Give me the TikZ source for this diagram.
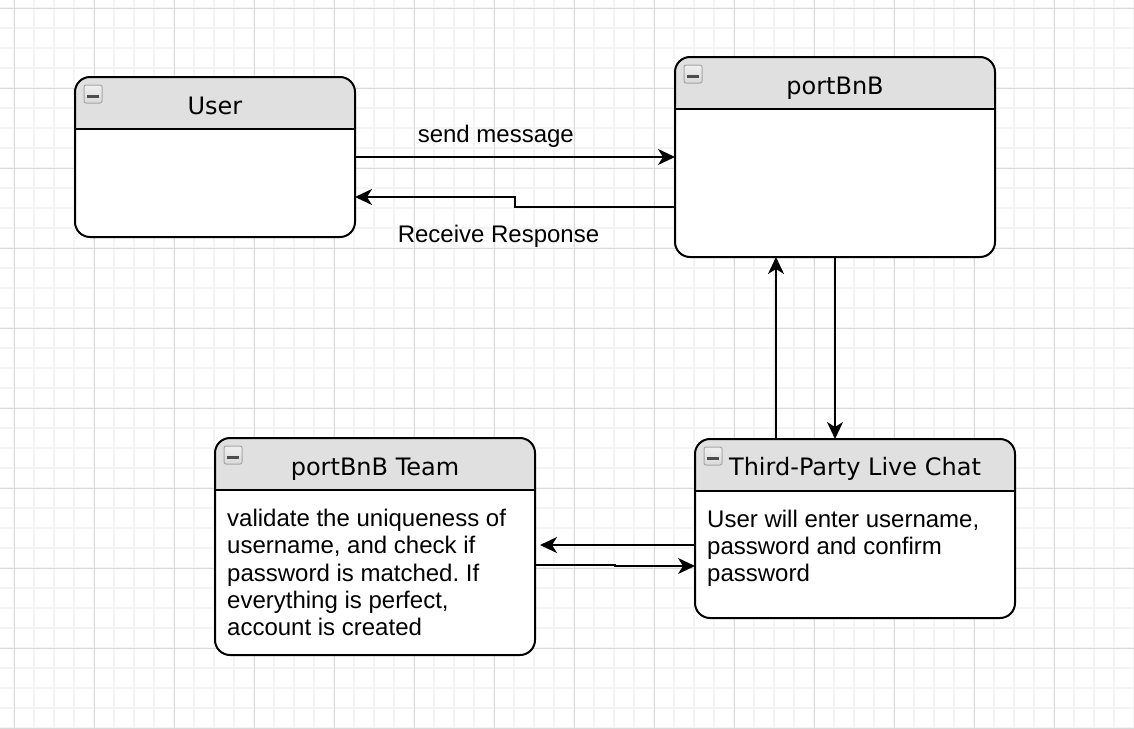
\documentclass[tikz,border=0pt]{standalone}
\usepackage{fontspec}
\setmainfont{Liberation Sans}
\newfontfamily\lanefont{DejaVu Sans}
\usetikzlibrary{arrows.meta}
\frenchspacing
\definecolor{lane-gray}{HTML}{E0E0E0}
\definecolor{grid-minor}{HTML}{F4F4F4}
\definecolor{grid-major}{HTML}{DADADA}
\tikzset{
    lane-box/.style = {draw, fill=white, line width=2pt, rectangle, rounded corners=15pt, inner sep=0pt, outer sep=0pt,
        path picture={
            \fill[lane-gray, sharp corners] (path picture bounding box.north west) rectangle ([yshift=-52pt]path picture bounding box.north east);
            \draw[line width=2pt, sharp corners] ([yshift=-52pt]path picture bounding box.north west) -- ([yshift=-52pt]path picture bounding box.north east);
        }},
    lane-title/.style = {font=\lanefont\fontsize{24}{28}\selectfont, anchor=base, inner sep=0pt},
    lane-text/.style = {font=\fontsize{24}{27.2}\selectfont, align=left, anchor=base west, inner sep=0pt},
    lane-icon/.style = {draw=gray!70, line width=1pt, top color=gray!12, bottom color=gray!30, rounded corners=2pt, minimum size=18pt, inner sep=0pt,
        path picture={
            \draw[line width=3pt, black!70] ([xshift=-6pt, yshift=-2pt]path picture bounding box.center) -- ([xshift=6pt, yshift=-2pt]path picture bounding box.center);
        }},
    flow/.style = {line width=2pt, -{Stealth[length=17pt, width=16pt, inset=5pt]}},
    flow-label/.style = {font=\fontsize{24}{28}\selectfont, anchor=base, inner sep=0pt},
}

\begin{document}
\begin{tikzpicture}[x=1pt, y=-1pt]
\useasboundingbox (0,0) rectangle (1134,728);
% background grid
\foreach \gx in {14,34,...,1134} \draw[grid-minor, line width=2pt] (\gx,0) -- (\gx,728);
\foreach \gy in {8,28,...,728} \draw[grid-minor, line width=2pt] (0,\gy) -- (1134,\gy);
\foreach \gx in {14,94,...,1134} \draw[grid-major, line width=1pt] (\gx,0) -- (\gx,728);
\foreach \gy in {8,88,...,728} \draw[grid-major, line width=1pt] (0,\gy) -- (1134,\gy);

% lanes
\node[lane-box, minimum width=280pt, minimum height=160pt] (user) at (215,157) {};
\node[lane-box, minimum width=320pt, minimum height=200pt] (portbnb) at (835,157) {};
\node[lane-box, minimum width=320pt, minimum height=217pt] (team) at (375,546.5) {};
\node[lane-box, minimum width=320pt, minimum height=179pt] (livechat) at (855,528.5) {};

\node[lane-icon] (user-icon) at ([xshift=18pt, yshift=-17pt]user.north west) {};
\node[lane-icon] (portbnb-icon) at ([xshift=18pt, yshift=-17pt]portbnb.north west) {};
\node[lane-icon] (team-icon) at ([xshift=18pt, yshift=-17pt]team.north west) {};
\node[lane-icon] (livechat-icon) at ([xshift=18pt, yshift=-17pt]livechat.north west) {};

\node[lane-title] (user-title) at ([yshift=-37pt]user.north) {User};
\node[lane-title] (portbnb-title) at ([yshift=-37pt]portbnb.north) {portBnB};
\node[lane-title] (team-title) at ([yshift=-37pt]team.north) {portBnB Team};
\node[lane-title] (livechat-title) at ([yshift=-36pt]livechat.north) {Third-Party Live Chat};

% body texts (base = last line)
\node[lane-text] (team-text) at ([xshift=12pt, yshift=-197.5pt]team.north west) {validate the uniqueness of\\ username, and check if\\ password is matched. If\\ everything is perfect,\\ account is created};
\node[lane-text] (livechat-text) at ([xshift=12pt, yshift=-142.5pt]livechat.north west) {User will enter username,\\ password and confirm\\ password};

% messages
\draw[flow] (user.east) -- (portbnb.west) node[flow-label, pos=0.44, yshift=14.7pt] (send-label) {send message};
\draw[flow] ([yshift=-50pt]portbnb.west) -- ++(-160pt,0pt) |- ([yshift=-40pt]user.east);
\node[flow-label] (receive-label) at (498.5,242.5) {Receive Response};

\draw[flow] ([xshift=-59pt]portbnb.south |- livechat.north) -- ([xshift=-59pt]portbnb.south);
\draw[flow] (portbnb.south) -- (portbnb.south |- livechat.north);

\draw[flow] ([yshift=-16.5pt]livechat.west) -- ([xshift=5pt, yshift=-16.5pt]team.east |- livechat.west);
\draw[flow] ([yshift=-18pt]team.east) -- ++(80pt,0pt) |- ([yshift=-37.5pt]livechat.west);
\end{tikzpicture}
\end{document}
